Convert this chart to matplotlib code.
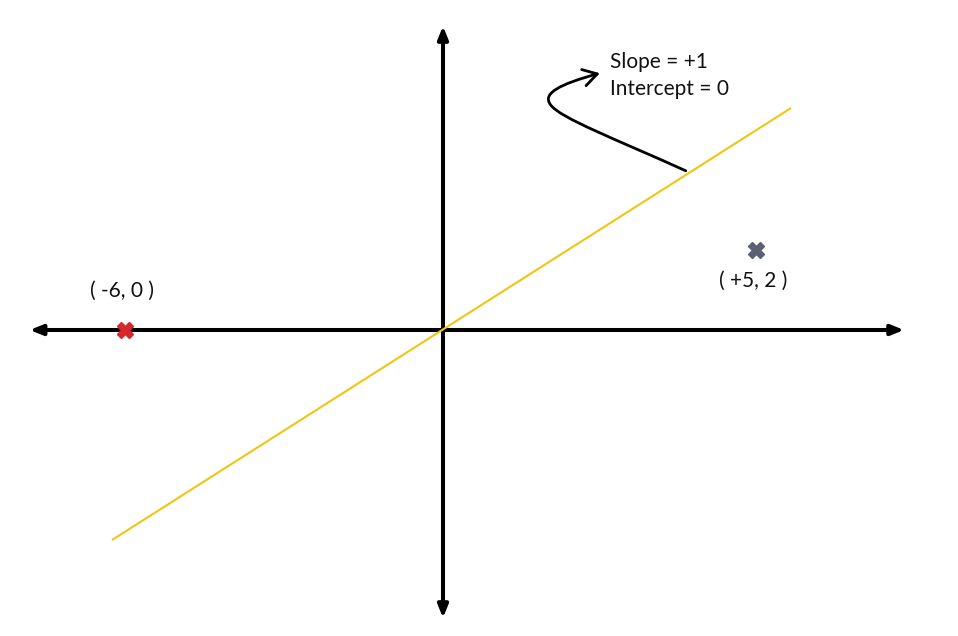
import matplotlib
matplotlib.use("Agg")
import matplotlib.pyplot as plt
from matplotlib.path import Path
from matplotlib.patches import FancyArrowPatch

# ---- data (diagram units: x=1 ~ 53px, y=1 ~ 40px) ----
axis_x_range = [-7.8, 8.7]
axis_y_range = [-7.2, 7.6]
line_x = [-6.245, 6.566]
line_y = [-5.25, 5.55]
point_labels = ["( -6, 0 )", "( +5, 2 )"]
point_x = [-6.0, 5.9]
point_y = [0.0, 2.0]
point_colors = ["#D7262C", "#5B6172"]
label_x = [-6.05, 5.85]
label_y = [0.98, 1.23]
annot_lines = ["Slope = +1", "Intercept = 0"]
annot_x = 3.15
annot_y = [6.7, 6.03]
# curved arrow control points (diagram units)
curve_pts = [(4.58, 3.98), (3.30, 4.75), (2.20, 5.30), (2.03, 5.63),
             (1.86, 5.92), (2.22, 6.15), (2.96, 6.42)]

fig = plt.figure(figsize=(9.58, 6.36), dpi=100)
ax = fig.add_axes([0, 0, 1, 1])
ax.set_xlim(-443 / 53, (958 - 443) / 53)
ax.set_ylim(-(636 - 330) / 40, 330 / 40)
ax.axis("off")

font = "Lato"

# axes with arrowheads at both ends
for (x0, y0, x1, y1) in [(axis_x_range[0], 0, axis_x_range[1], 0),
                         (0, axis_y_range[0], 0, axis_y_range[1])]:
    ax.annotate("", xy=(x1, y1), xytext=(x0, y0),
                arrowprops=dict(arrowstyle="<|-|>,head_length=0.75,head_width=0.3",
                                lw=2.9, color="black", shrinkA=0, shrinkB=0),
                zorder=2)

# yellow line
ax.plot(line_x, line_y, color="#F1C515", lw=1.5, zorder=3, solid_capstyle="butt")

# points
for x, y, c, lab, lx, ly in zip(point_x, point_y, point_colors, point_labels, label_x, label_y):
    ax.plot(x, y, marker="X", ms=12, color=c, mec=c, zorder=4)
    ax.text(lx, ly, lab, ha="center", va="center", fontsize=15, family=font, color="#111111")

# annotation text
for t, ty in zip(annot_lines, annot_y):
    ax.text(annot_x, ty, t, ha="left", va="center", fontsize=15, family=font, color="#111111")

# curved arrow
codes = [Path.MOVETO, Path.CURVE4, Path.CURVE4, Path.CURVE4, Path.CURVE4, Path.CURVE4, Path.CURVE4]
path = Path(curve_pts, codes)
arrow = FancyArrowPatch(path=path, arrowstyle="->,head_length=10,head_width=6",
                        lw=2.0, color="black", zorder=5)
ax.add_patch(arrow)

fig.savefig("out.png", dpi=100)
